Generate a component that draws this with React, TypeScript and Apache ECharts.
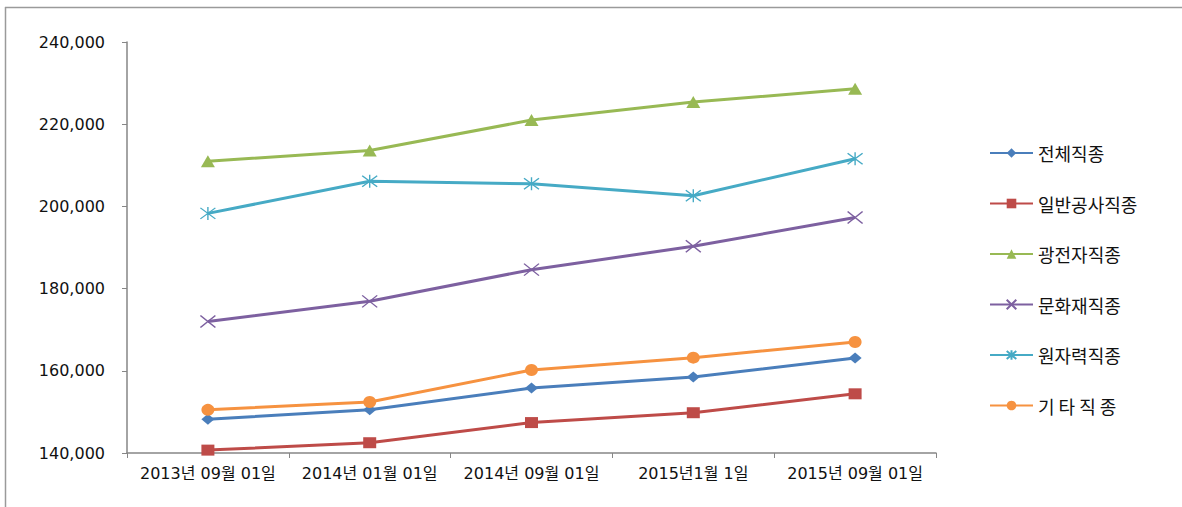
import React, { useEffect, useRef } from "react";
import * as echarts from "echarts";

const categories = [
  "2013년 09월 01일",
  "2014년 01월 01일",
  "2014년 09월 01일",
  "2015년1월 1일",
  "2015년 09월 01일",
];

const seriesNames = ["전체직종", "일반공사직종", "광전자직종", "문화재직종", "원자력직종", "기 타 직 종"];

const allJobs = [148200, 150500, 155800, 158500, 163100];
const generalConstruction = [140700, 142500, 147400, 149800, 154400];
const optoelectronic = [211000, 213600, 221000, 225400, 228600];
const culturalHeritage = [172000, 176900, 184600, 190300, 197300];
const nuclear = [198300, 206100, 205500, 202600, 211600];
const others = [150500, 152400, 160200, 163200, 167000];

const yTicks = { min: 140000, max: 240000, interval: 20000 };

const colors = ["#4A7EBB", "#BE4B48", "#98B954", "#7D60A0", "#46AAC5", "#F69240"];

const X_PATH = "path://M0,0 L14,11 M14,0 L0,11";
const STAR_PATH = "path://M0,0 L14,11 M14,0 L0,11 M7,-1 L7,12";

export default function App() {
  const ref = useRef<HTMLDivElement>(null);

  useEffect(() => {
    if (!ref.current) return;
    const chart = echarts.init(ref.current, undefined, { renderer: "svg" });

    const dataSets = [allJobs, generalConstruction, optoelectronic, culturalHeritage, nuclear, others];
    const symbols: any[] = ["diamond", "rect", "triangle", X_PATH, STAR_PATH, "circle"];
    const sizes: any[] = [[13, 11], [13, 11], [14, 12], [15, 12], [15, 13], [13, 12]];

    const series = seriesNames.map((name, i) => {
      const isStroke = i === 3 || i === 4;
      return {
        name,
        type: "line",
        data: dataSets[i],
        symbol: symbols[i],
        symbolSize: sizes[i],
        showAllSymbol: true,
        lineStyle: { color: colors[i], width: 3 },
        itemStyle: isStroke
          ? { color: "rgba(0,0,0,0)", borderColor: colors[i], borderWidth: 1.3 }
          : { color: colors[i], borderWidth: 0 },
        emphasis: { disabled: true },
        z: 2 + i,
      };
    });

    chart.setOption({
      animation: false,
      backgroundColor: "#ffffff",
      grid: { left: 127, right: 246, top: 42, bottom: 54, containLabel: false },
      xAxis: {
        type: "category",
        data: categories,
        boundaryGap: true,
        axisLine: { show: true, lineStyle: { color: "#868686", width: 1.5 } },
        axisTick: { show: true, length: 5, lineStyle: { color: "#868686", width: 1 } },
        axisLabel: {
          interval: 0,
          margin: 12,
          color: "#111",
          fontSize: 16,
          fontFamily: "'DejaVu Sans', 'Noto Sans CJK KR', sans-serif",
        },
      },
      yAxis: {
        type: "value",
        min: yTicks.min,
        max: yTicks.max,
        interval: yTicks.interval,
        splitLine: { show: false },
        axisLine: { show: true, lineStyle: { color: "#868686", width: 1.5 } },
        axisTick: { show: true, length: 5, lineStyle: { color: "#868686", width: 1 } },
        axisLabel: {
          margin: 22,
          color: "#111",
          fontSize: 16,
          fontFamily: "'DejaVu Sans', 'Noto Sans CJK KR', sans-serif",
          formatter: (v: number) => v.toLocaleString("en-US"),
        },
      },
      legend: {
        orient: "vertical",
        left: 989,
        top: 143,
        padding: 0,
        itemWidth: 43,
        itemHeight: 12,
        itemGap: 30.5,
        selectedMode: false,
        textStyle: {
          fontSize: 18,
          lineHeight: 20,
          color: "#111",
          fontFamily: "'Noto Sans CJK KR', sans-serif",
        },
        data: seriesNames,
      },
      graphic: [
        {
          type: "line",
          shape: { x1: 5, y1: 7.5, x2: 1182, y2: 7.5 },
          style: { stroke: "#9a9a9a", lineWidth: 1.5 },
          silent: true,
        },
        {
          type: "line",
          shape: { x1: 5.5, y1: 7, x2: 5.5, y2: 507 },
          style: { stroke: "#9a9a9a", lineWidth: 1.5 },
          silent: true,
        },
      ],
      series,
    });

    return () => chart.dispose();
  }, []);

  return (
    <div
      ref={ref}
      style={{ position: "fixed", left: 0, top: 0, width: 1182, height: 507 }}
    />
  );
}
